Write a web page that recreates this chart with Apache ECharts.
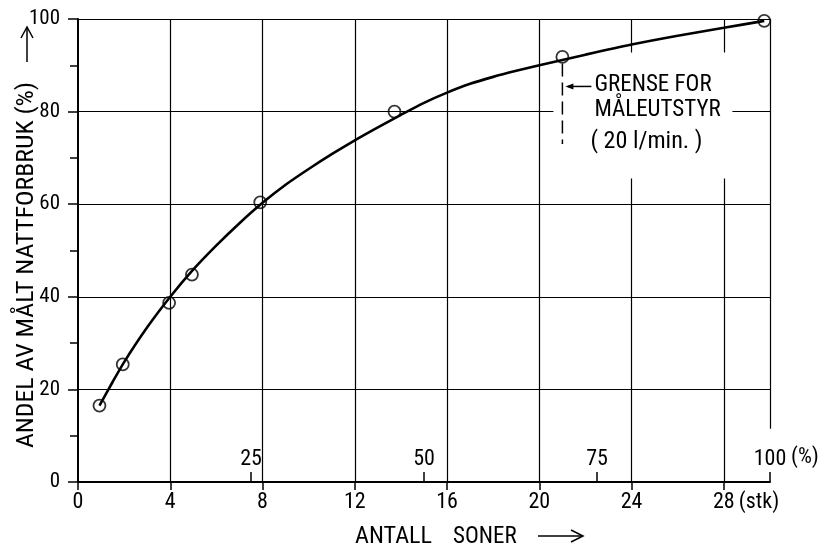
<!DOCTYPE html>
<html><head><meta charset="utf-8">
<script src="https://cdn.jsdelivr.net/npm/echarts@6/dist/echarts.min.js"></script>
<style>html,body{margin:0;padding:0;background:#fff}#c{width:832px;height:548px}</style>
</head><body><div id="c"></div>
<script>
// ---- data ----
const zoneCount    = [0.93, 1.94, 3.95, 4.94, 7.9, 13.72, 21.0, 29.75];
const sharePercent = [16.5, 25.4, 38.7, 44.8, 60.4, 80.0, 91.8, 99.6];
const curveX = [0.93, 1.5, 2, 3, 4, 5, 6, 7, 8, 9, 10, 11, 12, 13, 14, 15, 16, 17, 18, 19, 20, 22, 24, 26, 28, 29.75];
const curveY = [16.5, 21.6, 25.9, 33.4, 40.0, 45.9, 51.1, 55.9, 60.3, 64.2, 67.6, 70.8, 73.8, 76.6, 79.3, 81.9, 84.1, 86.0, 87.5, 88.8, 90.0, 92.3, 94.5, 96.4, 98.1, 99.6];
const xTicks = [0, 4, 8, 12, 16, 20, 24, 28];
const yTicks = [0, 20, 40, 60, 80, 100];
const pctTicks = [25, 50, 75, 100];
const limitLine = [[21.0, 90.4], [21.0, 73.0]];
const frameRight = [[30, 100], [30, 11.5]];
const annotationLines = ['GRENSE FOR', 'MÅLEUTSTYR', '( 20 l/min. )'];
const xName = ['ANTALL', 'SONER'];
const yName = 'ANDEL AV MÅLT NATTFORBRUK (%)';

const FONT = "'Roboto Condensed','DejaVu Sans Condensed',sans-serif";
const BLACK = '#000';
const chart = echarts.init(document.getElementById('c'), null, {renderer: 'canvas'});
const G = {left: 78, right: 62, top: 19, bottom: 66};

const option = {
  animation: false,
  backgroundColor: '#fff',
  grid: [Object.assign({}, G), Object.assign({}, G)],
  xAxis: [{
    type: 'value', gridIndex: 0, min: 0, max: 30, interval: 4,
    axisLine: {show: true, lineStyle: {color: BLACK, width: 2}},
    axisTick: {show: true, length: 8, customValues: xTicks, lineStyle: {color: BLACK, width: 1.5}},
    axisLabel: {color: BLACK, fontSize: 22, fontFamily: FONT, margin: 9, customValues: xTicks},
    splitLine: {show: false}
  }, {
    type: 'value', gridIndex: 1, min: 0, max: 100, interval: 25,
    axisLine: {show: false},
    axisTick: {show: true, inside: true, length: 10, customValues: pctTicks, lineStyle: {color: BLACK, width: 1.5}},
    axisLabel: {inside: true, color: BLACK, fontSize: 22, fontFamily: FONT, margin: 12, customValues: pctTicks},
    splitLine: {show: false}
  }],
  yAxis: [{
    type: 'value', gridIndex: 0, min: 0, max: 100, interval: 20,
    axisLine: {show: true, lineStyle: {color: BLACK, width: 2}},
    axisTick: {show: true, length: 10, customValues: yTicks, lineStyle: {color: BLACK, width: 1.5}},
    minorTick: {show: true, splitNumber: 2, length: 8, lineStyle: {color: BLACK, width: 1.5}},
    axisLabel: {color: BLACK, fontSize: 21, fontFamily: FONT, margin: 18, customValues: yTicks},
    splitLine: {show: true, lineStyle: {color: BLACK, width: 1.2}}
  }, {
    type: 'value', gridIndex: 1, min: 0, max: 100, show: false
  }],
  series: [{
    name: 'kurve', type: 'line', xAxisIndex: 0, yAxisIndex: 0, z: 10,
    data: curveX.map((x, i) => [x, curveY[i]]),
    smooth: 0.25, symbol: 'none',
    lineStyle: {color: BLACK, width: 2.6}
  }, {
    name: 'målt', type: 'scatter', xAxisIndex: 0, yAxisIndex: 0, z: 12,
    data: zoneCount.map((x, i) => [x, sharePercent[i]]),
    symbol: 'circle', symbolSize: 12,
    itemStyle: {color: 'rgba(0,0,0,0)', borderColor: BLACK, borderWidth: 1.8},
    markLine: {
      z: 1, silent: true, symbol: 'none', animation: false,
      label: {show: false},
      lineStyle: {color: BLACK, width: 1.2, type: 'solid'},
      data: xTicks.filter(v => v > 0).map(v => ({xAxis: v}))
        .concat([[{coord: frameRight[0]}, {coord: frameRight[1]}]])
    }
  }, {
    name: 'grense', type: 'line', xAxisIndex: 0, yAxisIndex: 0, z: 10,
    data: limitLine, symbol: 'none',
    lineStyle: {color: BLACK, width: 1.5, type: [13, 6]}
  }]
};
chart.setOption(option);

const toPx = (pt) => chart.convertToPixel({gridIndex: 0}, pt);
const pctPx = (v) => chart.convertToPixel({xAxisIndex: 1}, v);
const dashTop = toPx(limitLine[0]);
const ax = dashTop[0], ay = dashTop[1] + 23;
const axisY = toPx([0, 0])[1];
const x28 = toPx([28, 0])[0];
const x100 = pctPx(100);
const txt = (s, x, y, size, sx) => ({
  type: 'text', z: 8, x: x, y: y, scaleX: sx || 1,
  style: {text: s, fill: BLACK, font: (size || 23) + 'px ' + FONT, textAlign: 'left', textVerticalAlign: 'middle'}
});

chart.setOption({
  graphic: [
    {type: 'rect', z: 6, shape: {x: ax - 9, y: ay - 34, width: 179, height: 126}, style: {fill: '#fff'}},
    {type: 'line', z: 8, shape: {x1: ax + 6, y1: ay, x2: ax + 29, y2: ay}, style: {stroke: BLACK, lineWidth: 1.5}},
    {type: 'polygon', z: 8, shape: {points: [[ax + 3, ay], [ax + 11, ay - 3], [ax + 11, ay + 3]]}, style: {fill: BLACK}},
    txt(annotationLines[0], ax + 32, ay - 1, 23),
    txt(annotationLines[1], ax + 32, ay + 24, 23),
    txt(annotationLines[2], ax + 28, ay + 56, 23, 1.05),
    txt('(stk)', x28 + 15, axisY + 20, 22),
    txt('(%)', x100 + 21, axisY - 25, 22),
    txt(xName[0], 355, 537, 23, 1.05),
    txt(xName[1], 453, 537, 23),
    {type: 'line', z: 8, shape: {x1: 538, y1: 536, x2: 583, y2: 536}, style: {stroke: BLACK, lineWidth: 1.5}},
    {type: 'polyline', z: 8, shape: {points: [[571, 530], [583, 536], [571, 542]]}, style: {stroke: BLACK, lineWidth: 1.5, fill: null}},
    {type: 'text', z: 8, x: 27, y: 265, rotation: Math.PI / 2, scaleX: 1.12,
      style: {text: yName, fill: BLACK, font: '23px ' + FONT, textAlign: 'center', textVerticalAlign: 'middle'}},
    {type: 'line', z: 8, shape: {x1: 27, y1: 62, x2: 27, y2: 27}, style: {stroke: BLACK, lineWidth: 1.5}},
    {type: 'polyline', z: 8, shape: {points: [[21, 38], [27, 27], [33, 38]]}, style: {stroke: BLACK, lineWidth: 1.5, fill: null}}
  ]
});
</script>
</body></html>
